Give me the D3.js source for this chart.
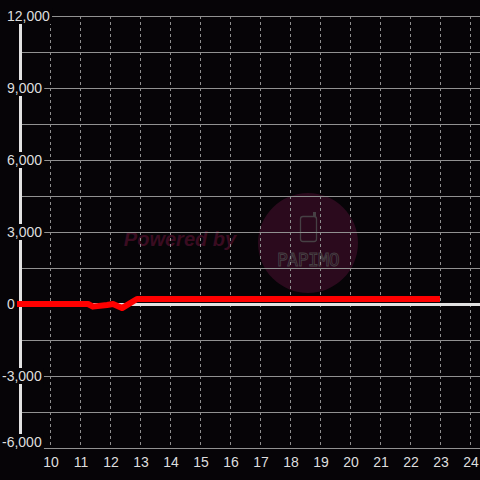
<!DOCTYPE html>
<html>
<head>
<meta charset="utf-8">
<script src="https://cdn.jsdelivr.net/npm/d3@7"></script>
<style>
  html, body { margin: 0; padding: 0; background: #060407; }
  svg { display: block; }
</style>
</head>
<body>
<div id="chart"></div>
<script>
(function () {
  "use strict";

  // Data
  const hours = [8.9, 10, 11, 11.27, 11.43, 11.9, 12.1, 12.4, 12.9, 23];
  const values = [0, 0, 0, 0, -110, -40, 0, -170, 210, 210];

  const xTicks = [10, 11, 12, 13, 14, 15, 16, 17, 18, 19, 20, 21, 22, 23, 24];
  const yGrid = [-6000, -4500, -3000, -1500, 0, 1500, 3000, 4500, 6000, 7500, 9000, 10500, 12000];
  const yLabels = [12000, 9000, 6000, 3000, 0, -3000, -6000];

  const w = 480, h = 480;
  const FONT = "'Liberation Sans', Arial, sans-serif";

  const x = d3.scaleLinear().domain([9, 24]).range([20, 470]);
  const y = d3.scaleLinear().domain([-6000, 12000]).range([448, 16]);

  const svg = d3.select("#chart").append("svg")
    .attr("width", w).attr("height", h);

  svg.append("rect").attr("width", w).attr("height", h).attr("fill", "#060407");

  // Watermark (behind the grid)
  const wm = svg.append("g");
  wm.append("circle").attr("cx", 308).attr("cy", 243).attr("r", 50).attr("fill", "#2b0a1d");
  wm.append("text")
    .attr("x", 180).attr("y", 246)
    .attr("text-anchor", "middle")
    .attr("font-family", FONT)
    .attr("font-size", "20px")
    .attr("font-weight", "bold")
    .attr("font-style", "italic")
    .attr("fill", "#3a0c21")
    .text("Powered by");
  wm.append("rect")
    .attr("x", 300.5).attr("y", 216.5).attr("width", 16).attr("height", 25).attr("rx", 2.5)
    .attr("fill", "none").attr("stroke", "#464044").attr("stroke-width", 1.3);
  wm.append("rect")
    .attr("x", 313).attr("y", 212).attr("width", 3).attr("height", 5)
    .attr("fill", "#464044");
  wm.append("text")
    .attr("x", 308).attr("y", 266)
    .attr("text-anchor", "middle")
    .attr("font-family", "'DejaVu Sans Mono', monospace")
    .attr("font-size", "18px")
    .attr("letter-spacing", "-0.5px")
    .attr("fill", "none")
    .attr("stroke", "#464044")
    .attr("stroke-width", 0.9)
    .text("PAPIMO");

  // Horizontal grid
  svg.selectAll("line.hgrid")
    .data(yGrid)
    .enter().append("line")
    .attr("class", "hgrid")
    .attr("x1", x(9)).attr("x2", w)
    .attr("y1", (d) => y(d) + 0.5).attr("y2", (d) => y(d) + 0.5)
    .attr("stroke", "#919191").attr("stroke-width", 1);

  // Vertical dashed grid
  svg.selectAll("line.vgrid")
    .data(xTicks)
    .enter().append("line")
    .attr("class", "vgrid")
    .attr("x1", (d) => x(d) + 0.5).attr("x2", (d) => x(d) + 0.5)
    .attr("y1", y(12000)).attr("y2", y(-6000))
    .attr("stroke", "#8e8e8e").attr("stroke-width", 1)
    .attr("stroke-dasharray", "3,3");

  // Zero line
  svg.append("line")
    .attr("x1", x(9)).attr("x2", w)
    .attr("y1", y(0) + 0.5).attr("y2", y(0) + 0.5)
    .attr("stroke", "#e2e2e2").attr("stroke-width", 3);

  // Y axis line
  svg.append("line")
    .attr("x1", x(9) + 0.5).attr("x2", x(9) + 0.5)
    .attr("y1", y(12000)).attr("y2", y(-6000))
    .attr("stroke", "#e2e2e2").attr("stroke-width", 3);

  // Series
  const pts = hours.map((hr, i) => [hr, values[i]]);
  const line = d3.line().x((d) => x(d[0])).y((d) => y(d[1]));
  svg.append("path")
    .datum(pts)
    .attr("d", line)
    .attr("fill", "none")
    .attr("stroke", "#ff0000")
    .attr("stroke-width", 6)
    .attr("stroke-linejoin", "round");

  // Y labels with black boxes (bottom one nudged up to stay inside)
  const yl = svg.selectAll("g.ylab")
    .data(yLabels)
    .enter().append("g")
    .attr("class", "ylab");
  yl.append("text")
    .attr("x", (d) => (d < 0 ? 2 : 7))
    .attr("y", (d) => Math.min(y(d), 442) + 5)
    .attr("font-family", FONT)
    .attr("font-size", "14px")
    .attr("fill", "#dedede")
    .text((d) => d3.format(",")(d).replace("−", "-"));
  yl.each(function () {
    const g = d3.select(this);
    const t = g.select("text").node();
    const bb = t.getBBox();
    g.insert("rect", "text")
      .attr("x", 0).attr("y", bb.y)
      .attr("width", bb.x + bb.width + 2).attr("height", bb.height)
      .attr("fill", "#060407");
  });

  // X labels
  svg.selectAll("text.xlab")
    .data(xTicks)
    .enter().append("text")
    .attr("class", "xlab")
    .attr("x", (d) => x(d) + 1)
    .attr("y", 467)
    .attr("text-anchor", "middle")
    .attr("font-family", FONT)
    .attr("font-size", "14px")
    .attr("fill", "#dedede")
    .text((d) => d);
})();
</script>
</body>
</html>
